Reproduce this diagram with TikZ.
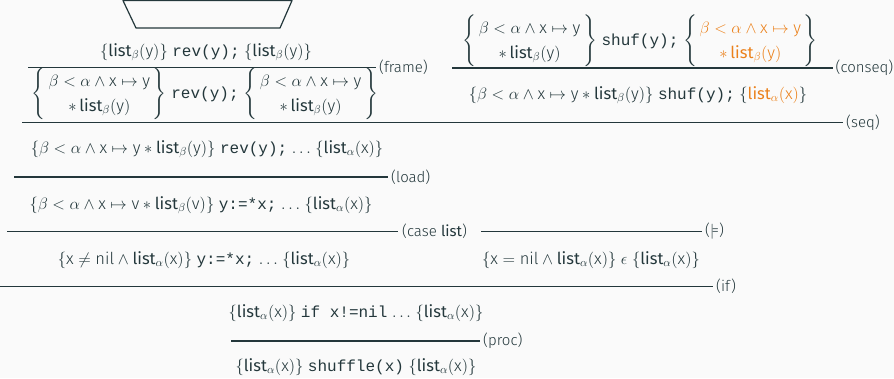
\RequirePackage{fix-cm}
\documentclass[tikz,border=0pt]{standalone}
\usepackage{amsmath}
\usepackage{fontspec}
\setmainfont{Fira Sans Light}
\setsansfont{Fira Sans}
\setmonofont{Liberation Mono}[Scale=0.97]
\usetikzlibrary{positioning}
\definecolor{bgSlide}{HTML}{FAFAFA}
\definecolor{textMain}{HTML}{23373B}
\definecolor{accentOrange}{HTML}{EB811B}
\newcommand{\lst}[1]{\textsf{list}_{#1}}
\newcommand{\pv}[1]{\mathrm{#1}}
\newcommand{\code}[1]{\texttt{#1}}
\newcommand{\twoline}[2]{\left\{\begin{array}{@{\,}c@{\,}} #1 \\ #2 \end{array}\right\}}
\renewcommand{\arraystretch}{1.3}
\tikzset{
  judgement/.style={inner sep=0pt, text=textMain, font=\fontsize{16.5}{19}\selectfont},
  rulebar/.style={draw=textMain, line width=1.2pt},
  rulelabel/.style={inner sep=0pt, text=textMain, font=\fontsize{15}{18}\selectfont},
  elided/.style={draw=textMain, line width=1.2pt, line join=round},
}

\begin{document}
\begin{tikzpicture}[x=1pt, y=-1pt]
  \fill[bgSlide] (0,0) rectangle (894,378);
  \useasboundingbox (0,0) rectangle (894,378);

  % === Elided derivation above rev(y) ===
  \draw[elided] (123,0.6) -- (136,28) -- (280,28) -- (292,0.6) -- cycle;

  % === Left branch: rev(y) ===
  \node[judgement] (revPre) at (206,52) {$\{\lst{\beta}(\pv{y})\}$ \code{rev(y);} $\{\lst{\beta}(\pv{y})\}$};
  \coordinate (frameL) at (28,67.5);
  \coordinate (frameR) at (376,67.5);
  \draw[rulebar] (frameL) -- (frameR);
  \node[rulelabel, right=3pt of frameR] (frameLbl) {(frame)};
  \node[judgement] (revPost) at (205,94) {%
    $\twoline{\beta < \alpha \wedge \pv{x} \mapsto \pv{y}}{\ast\, \lst{\beta}(\pv{y})}$
    \code{rev(y);}
    $\twoline{\beta < \alpha \wedge \pv{x} \mapsto \pv{y}}{\ast\, \lst{\beta}(\pv{y})}$};

  % === Right branch: shuf(y) ===
  \node[judgement] (shufPre) at (640,41) {%
    $\twoline{\beta < \alpha \wedge \pv{x} \mapsto \pv{y}}{\ast\, \lst{\beta}(\pv{y})}$
    \code{shuf(y);}
    $\twoline{\color{accentOrange}\beta < \alpha \wedge \pv{x} \mapsto \pv{y}}{\color{accentOrange}\ast\, \lst{\beta}(\pv{y})}$};
  \coordinate (conseqL) at (452,68);
  \coordinate (conseqR) at (833,68);
  \draw[rulebar] (conseqL) -- (conseqR);
  \node[rulelabel, right=2.5pt of conseqR] (conseqLbl) {(conseq)};
  \node[judgement] (shufPost) at (638,95) {%
    $\{\beta < \alpha \wedge \pv{x} \mapsto \pv{y} \ast \lst{\beta}(\pv{y})\}$ \code{shuf(y);}
    $\{{\color{accentOrange}\lst{\alpha}(\pv{x})}\}$};

  % === Sequencing ===
  \coordinate (seqL) at (22,122.5);
  \coordinate (seqR) at (843,122.5);
  \draw[rulebar] (seqL) -- (seqR);
  \node[rulelabel, right=3pt of seqR] (seqLbl) {(seq)};
  \node[judgement] (seqPost) at (207,149) {%
    $\{\beta < \alpha \wedge \pv{x} \mapsto \pv{y} \ast \lst{\beta}(\pv{y})\}$ \code{rev(y);}
    $\ldots$ $\{\lst{\alpha}(\pv{x})\}$};

  % === Load ===
  \coordinate (loadL) at (14,177);
  \coordinate (loadR) at (388,177);
  \draw[rulebar] (loadL) -- (loadR);
  \node[rulelabel, right=3pt of loadR] (loadLbl) {(load)};
  \node[judgement] (loadPost) at (201,205) {%
    $\{\beta < \alpha \wedge \pv{x} \mapsto \pv{v} \ast \lst{\beta}(\pv{v})\}$ \code{y:=*x;}
    $\ldots$ $\{\lst{\alpha}(\pv{x})\}$};

  % === Case split on list / entailment ===
  \coordinate (caseL) at (7,231.5);
  \coordinate (caseR) at (398,231.5);
  \draw[rulebar] (caseL) -- (caseR);
  \node[rulelabel, right=4pt of caseR] (caseLbl) {(case \textsf{list})};
  \coordinate (entL) at (481,231.5);
  \coordinate (entR) at (702,231.5);
  \draw[rulebar] (entL) -- (entR);
  \node[rulelabel, right=3pt of entR] (entLbl) {($\models$)};
  \node[judgement] (nonNil) at (204,260) {%
    $\{\pv{x} \neq \pv{nil} \wedge \lst{\alpha}(\pv{x})\}$ \code{y:=*x;}
    $\ldots$ $\{\lst{\alpha}(\pv{x})\}$};
  \node[judgement] (isNil) at (591,260) {%
    $\{\pv{x} = \pv{nil} \wedge \lst{\alpha}(\pv{x})\}\ \epsilon\ \{\lst{\alpha}(\pv{x})\}$};

  % === Conditional ===
  \coordinate (ifL) at (0,286.5);
  \coordinate (ifR) at (713,286.5);
  \draw[rulebar] (ifL) -- (ifR);
  \node[rulelabel, right=3pt of ifR] (ifLbl) {(if)};
  \node[judgement] (ifPost) at (356,313) {%
    $\{\lst{\alpha}(\pv{x})\}$ \code{if x!=nil} $\ldots$ $\{\lst{\alpha}(\pv{x})\}$};

  % === Procedure ===
  \coordinate (procL) at (231,341);
  \coordinate (procR) at (480,341);
  \draw[rulebar] (procL) -- (procR);
  \node[rulelabel, right=3pt of procR] (procLbl) {(proc)};
  \node[judgement] (procPost) at (356,367) {%
    $\{\lst{\alpha}(\pv{x})\}$ \code{shuffle(x)} $\{\lst{\alpha}(\pv{x})\}$};
\end{tikzpicture}
\end{document}
